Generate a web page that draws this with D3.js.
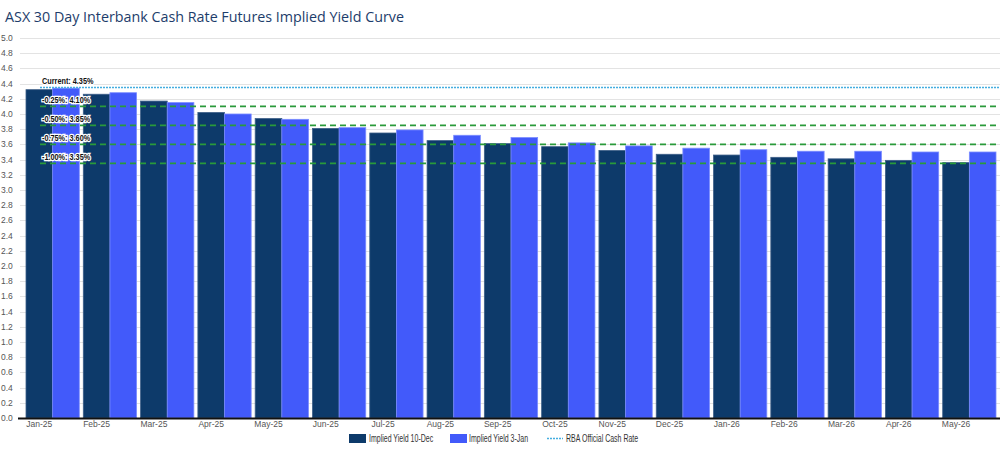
<!DOCTYPE html>
<html>
<head>
<meta charset="utf-8">
<script src="https://cdn.jsdelivr.net/npm/d3@7"></script>
<style>
  body { margin: 0; background: #fff; }
  svg { display: block; font-family: "Liberation Sans", Arial, sans-serif; }
</style>
</head>
<body>
<div id="chart"></div>
<script>
const months = ["Jan-25","Feb-25","Mar-25","Apr-25","May-25","Jun-25","Jul-25","Aug-25","Sep-25",
  "Oct-25","Nov-25","Dec-25","Jan-26","Feb-26","Mar-26","Apr-26","May-26"];
const yield10Dec = [4.32,4.26,4.17,4.02,3.94,3.81,3.75,3.65,3.61,3.57,3.52,3.47,3.46,3.43,3.41,3.39,3.36];
const yield3Jan  = [4.34,4.28,4.15,4.00,3.93,3.82,3.79,3.72,3.69,3.62,3.58,3.55,3.53,3.51,3.51,3.50,3.50];
const cashRate = 4.35;
const cutLevels = [
  { label: "-0.25%: 4.10%", value: 4.10 },
  { label: "-0.50%: 3.85%", value: 3.85 },
  { label: "-0.75%: 3.60%", value: 3.60 },
  { label: "-1.00%: 3.35%", value: 3.35 }
];
const yTicks = d3.range(0, 5.01, 0.2);

const W = 1000, H = 451;
const svg = d3.select('#chart').append('svg').attr('width', W).attr('height', H);

svg.append('text')
  .attr('x', 5).attr('y', 22)
  .attr('fill', '#1d3d6b')
  .style('font-family', '"Open Sans", sans-serif')
  .style('font-size', '14.3px')
  .text('ASX 30 Day Interbank Cash Rate Futures Implied Yield Curve');

const x = d3.scaleBand().domain(months).range([24, 998]).paddingInner(0.07).paddingOuter(0.035);
const sub = d3.scaleBand().domain(['d', 'j']).range([0, x.bandwidth()]);
const y = d3.scaleLinear().domain([0, 5]).range([418, 38]);

// grid
svg.append('g').selectAll('line').data(yTicks).enter().append('line')
  .attr('x1', 20).attr('x2', W)
  .attr('y1', d => Math.round(y(d)) + 0.5).attr('y2', d => Math.round(y(d)) + 0.5)
  .attr('stroke', '#e3e3e3');

svg.append('g').selectAll('text').data(yTicks).enter().append('text')
  .attr('x', 1).attr('y', d => y(d) + 3)
  .attr('fill', '#555').style('font-size', '8.5px')
  .text(d => d.toFixed(1));

// bars
const grp = svg.append('g').selectAll('g').data(months).enter().append('g')
  .attr('transform', d => `translate(${x(d)},0)`);
grp.append('rect')
  .attr('x', sub('d')).attr('width', sub.bandwidth())
  .attr('y', (d, i) => y(yield10Dec[i])).attr('height', (d, i) => y(0) - y(yield10Dec[i]))
  .attr('fill', '#0d3a6a').attr('stroke', '#3d5f88').attr('stroke-width', 0.8);
grp.append('rect')
  .attr('x', sub('j')).attr('width', sub.bandwidth())
  .attr('y', (d, i) => y(yield3Jan[i])).attr('height', (d, i) => y(0) - y(yield3Jan[i]))
  .attr('fill', '#425afa').attr('stroke', '#7a8cff').attr('stroke-width', 0.8);

// axis line
svg.append('line').attr('x1', 18).attr('x2', W).attr('y1', y(0) + 0.5).attr('y2', y(0) + 0.5)
  .attr('stroke', '#111').attr('stroke-width', 2);

// x labels
svg.append('g').selectAll('text').data(months).enter().append('text')
  .attr('x', d => x(d) + sub('d') + sub.bandwidth() / 2).attr('y', 427)
  .attr('text-anchor', 'middle').attr('fill', '#555').style('font-size', '8.5px')
  .text(d => d);

// reference lines
svg.append('line').attr('x1', 40).attr('x2', W).attr('y1', y(cashRate)).attr('y2', y(cashRate))
  .attr('stroke', '#45aee0').attr('stroke-width', 1.5).attr('stroke-dasharray', '2,1');
svg.append('g').selectAll('line').data(cutLevels).enter().append('line')
  .attr('x1', 40).attr('x2', W).attr('y1', d => y(d.value)).attr('y2', d => y(d.value))
  .attr('stroke', '#2a9a3a').attr('stroke-width', 1.8).attr('stroke-dasharray', '6,4');

// narrow text: squeeze horizontally
function narrow(sel, px, py, k) {
  return sel.attr('transform', `translate(${px},${py}) scale(${k},1)`);
}

const labels = [{ label: 'Current: 4.35%', value: cashRate }].concat(cutLevels);
svg.append('g').selectAll('text').data(labels).enter().append('text')
  .attr('transform', d => `translate(42,${y(d.value) - 3}) scale(0.88,1)`)
  .attr('fill', '#111').attr('stroke', '#fff').attr('stroke-width', 2.5)
  .attr('paint-order', 'stroke').style('font-size', '8.3px').style('font-weight', 'bold')
  .text(d => d.label);

// legend
const lg = svg.append('g').style('font-size', '10px');
lg.append('rect').attr('x', 349).attr('y', 434).attr('width', 17).attr('height', 9).attr('fill', '#0d3a6a');
narrow(lg.append('text'), 369, 442, 0.7).attr('fill', '#333').text('Implied Yield 10-Dec');
lg.append('rect').attr('x', 450).attr('y', 434).attr('width', 17).attr('height', 9).attr('fill', '#425afa');
narrow(lg.append('text'), 469, 442, 0.7).attr('fill', '#333').text('Implied Yield 3-Jan');
lg.append('line').attr('x1', 547).attr('x2', 563).attr('y1', 438.5).attr('y2', 438.5)
  .attr('stroke', '#45aee0').attr('stroke-width', 1.5).attr('stroke-dasharray', '2,1');
narrow(lg.append('text'), 566, 442, 0.7).attr('fill', '#333').text('RBA Official Cash Rate');
</script>
</body>
</html>
